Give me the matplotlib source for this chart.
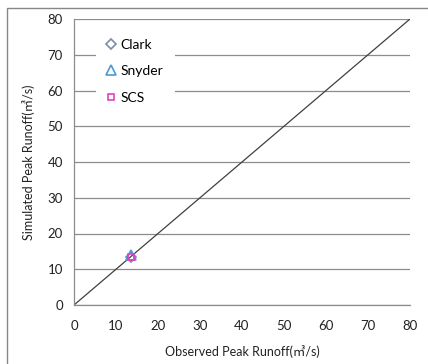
import matplotlib

matplotlib.use("Agg")
import matplotlib.pyplot as plt
from matplotlib.patches import Rectangle

plt.rcParams["font.family"] = ["Lato", "Noto Sans CJK SC", "DejaVu Sans"]

series = ["Clark", "Snyder", "SCS"]
observed = [13.5, 13.5, 13.5]
simulated = [13.3, 14.0, 13.3]
markers = ["D", "^", "s"]
colors = ["#7f8aa8", "#4a9ad6", "#e23fc2"]
sizes = [5, 7, 5]
ticks = [0, 10, 20, 30, 40, 50, 60, 70, 80]

fig = plt.figure(figsize=(4.28, 3.64), dpi=100)
ax = fig.add_axes([74 / 428, 59 / 364, 336 / 428, 286 / 364])

# outer chart frame (only left/top edges fall inside the image)
fig.add_artist(Rectangle((7 / 428, -0.2), 1.2, 1.2 - 8 / 364,
                         transform=fig.transFigure, fill=False,
                         edgecolor="#878787", linewidth=1.0))

ax.plot([0, 80], [0, 80], color="#404040", linewidth=0.9, zorder=2)
for name, x, y, m, c, s in zip(series, observed, simulated, markers, colors, sizes):
    ax.plot([x], [y], linestyle="none", marker=m, markersize=s,
            markerfacecolor="none", markeredgecolor=c, markeredgewidth=1.2,
            label=name, zorder=3)

ax.set_xlim(0, 80)
ax.set_ylim(0, 80)
ax.set_xticks(ticks)
ax.set_yticks(ticks)
ax.yaxis.grid(True, color="#8c8c8c", linewidth=0.9)
ax.set_axisbelow(True)
ax.tick_params(length=0, labelsize=9.5, labelcolor="#222222")
ax.tick_params(axis="x", pad=11)
ax.tick_params(axis="y", pad=8)
for side in ["top", "right"]:
    ax.spines[side].set_visible(False)
for side in ["left", "bottom"]:
    ax.spines[side].set_color("#8c8c8c")
    ax.spines[side].set_linewidth(0.9)

ax.set_xlabel("Observed Peak Runoff(㎥/s)", fontsize=9, color="#222222", labelpad=9)
ax.set_ylabel("Simulated Peak Runoff(㎥/s)", fontsize=9, color="#222222", labelpad=9)

leg = ax.legend(loc="upper left", bbox_to_anchor=(0.065, 0.97), frameon=True,
                fancybox=False, edgecolor="none", facecolor="white", framealpha=1,
                fontsize=10, handlelength=0.6, handletextpad=0.4,
                labelspacing=1.05, borderpad=0.8, borderaxespad=0)

fig.savefig("out.png", dpi=100)
